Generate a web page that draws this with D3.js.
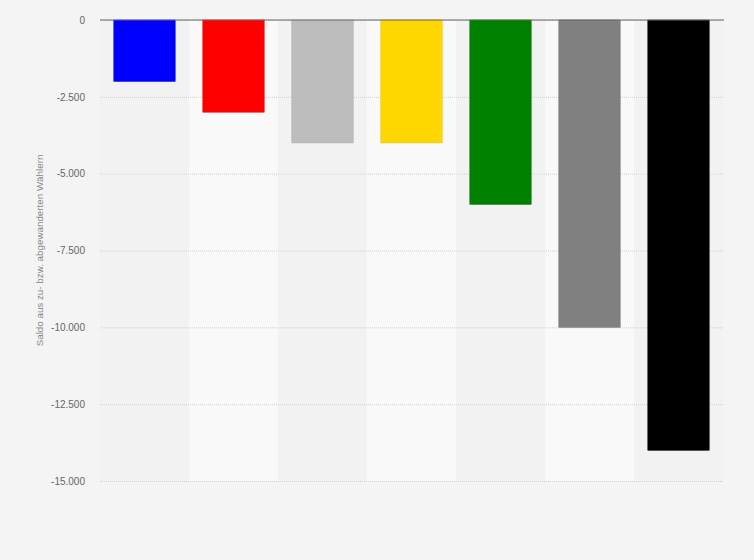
<!DOCTYPE html>
<html><head><meta charset="utf-8">
<script src="https://cdn.jsdelivr.net/npm/d3@7"></script>
<style>body{margin:0;background:#f4f4f4;} svg{display:block;}</style>
</head><body>
<svg id="chart" width="754" height="560"></svg>
<script>
const categories = ["AfD", "SPD", "Andere", "FDP", "Grüne", "Nichtwähler", "CDU"];
const values = [-2000, -3000, -4000, -4000, -6000, -10000, -14000];
const barColors = ["#0000ff", "#ff0000", "#bdbdbd", "#ffd700", "#008000", "#808080", "#000000"];
const yTicks = [0, -2500, -5000, -7500, -10000, -12500, -15000];
const yTitle = "Saldo aus zu- bzw. abgewanderten Wählern";

const svg = d3.select("#chart");
const m = {left: 100, right: 31, top: 20, bottom: 79};
const W = 754, H = 560;
svg.append("rect").attr("width", W).attr("height", H).attr("fill", "#f4f4f4");

const x = d3.scaleBand().domain(categories).range([m.left, W - m.right]).paddingInner(0.31).paddingOuter(0.155);
const xb = d3.scaleBand().domain(categories).range([m.left, W - m.right]);
const y = d3.scaleLinear().domain([-15000, 0]).range([H - m.bottom, m.top]);

// alternating bands
svg.append("g").selectAll("rect").data(categories).join("rect")
  .attr("x", d => xb(d)).attr("width", xb.bandwidth())
  .attr("y", y(0)).attr("height", y(-15000) - y(0))
  .attr("fill", (d, i) => i % 2 ? "#f9f9f9" : "#f2f2f2");

// grid
const fmt = v => v === 0 ? "0" : d3.format(",")(v).replace(/,/g, ".").replace("−", "-");
const ga = svg.append("g").attr("transform", `translate(${m.left},0)`)
  .call(d3.axisLeft(y).tickValues(yTicks).tickSize(-(W - m.left - m.right)).tickPadding(15).tickFormat(fmt));
ga.select(".domain").remove();
ga.selectAll(".tick line").attr("stroke", "#cfcfcf").attr("stroke-dasharray", "1,1");
ga.selectAll(".tick text").attr("fill", "#666").style("font-family", "Liberation Sans, Arial, sans-serif").style("font-size", "10px");

// bars
svg.append("g").selectAll("rect").data(values).join("rect")
  .attr("x", (d, i) => x(categories[i]))
  .attr("width", x.bandwidth())
  .attr("y", d => y(0))
  .attr("height", d => y(d) - y(0))
  .attr("fill", (d, i) => barColors[i])
  .attr("stroke", (d, i) => d3.color(barColors[i]).darker(0.3))
  .attr("stroke-width", 0.5);

// zero line
svg.append("line").attr("x1", m.left).attr("x2", W - m.right + 1)
  .attr("y1", y(0)).attr("y2", y(0)).attr("stroke", "#666").attr("stroke-width", 1);

// y title
svg.append("text").attr("transform", `translate(43,${(y(0) + y(-15000)) / 2}) rotate(-90)`)
  .attr("text-anchor", "middle").attr("fill", "#888")
  .style("font-family", "Liberation Sans, Arial, sans-serif").style("font-size", "9.8px")
  .text(yTitle);
</script>
</body></html>
